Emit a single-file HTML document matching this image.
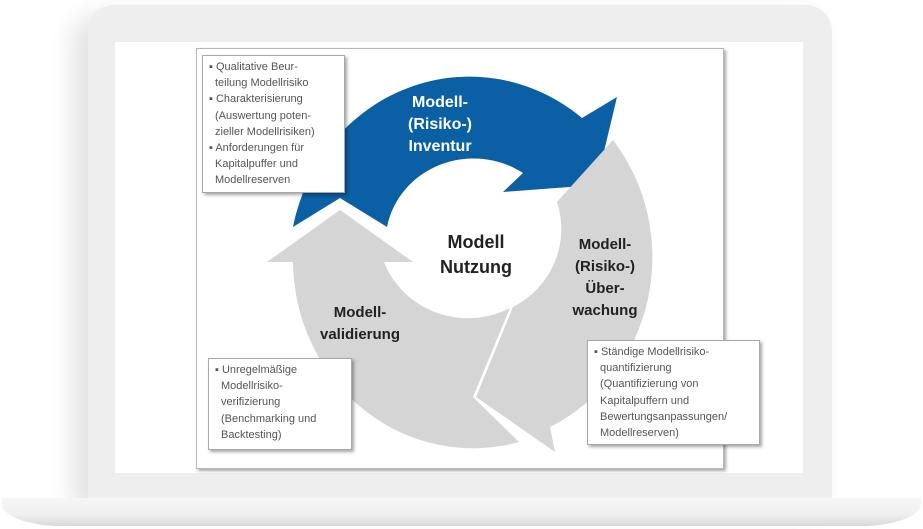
<!DOCTYPE html>
<html><head><meta charset="utf-8"><style>
html,body{margin:0;padding:0;background:#fff;}
body{width:923px;height:529px;position:relative;overflow:hidden;font-family:"Liberation Sans",sans-serif;}
.frame{position:absolute;left:88px;top:5px;width:744px;height:497px;background:#eeeeef;border-radius:26px 26px 4px 4px;box-shadow:-14px 10px 26px rgba(0,0,0,0.12);}
.base{position:absolute;left:2px;top:498px;width:919px;height:28px;background:linear-gradient(#f6f6f6,#f0f0f0 60%,#d8d8d8);border-radius:2px 2px 60px 60px/2px 2px 22px 22px;}
.screen{position:absolute;left:115px;top:42px;width:688px;height:431px;background:#fff;}
.dbox{position:absolute;left:196px;top:48px;width:526px;height:419px;border:1px solid #b8b8b8;box-shadow:2px 2px 3px rgba(0,0,0,0.35);background:#fff;}
.tb{position:absolute;background:#fff;border:1px solid #a8a8a8;box-shadow:2px 2px 3px rgba(0,0,0,0.35);font-size:11px;line-height:16.2px;color:#555;padding:3px 4px 3px 4px;box-sizing:border-box;}
.tb div{padding-left:8px;text-indent:-6px;}
.lbl{position:absolute;font-weight:bold;text-align:center;}
</style></head><body>
<div class="frame"></div>
<div class="base"></div>
<div class="screen"></div>
<div class="dbox"></div>
<svg style="position:absolute;left:0;top:0" width="923" height="529">
<path d="M293,227 A180 188 0 0 1 582,118 L617,97 L596,185 L503,192 L523,173 A88 84 0 0 0 387,227 L340,198 Z" fill="#0b5fa5"/>
<path d="M519,442 L473,397 L510,308 A90 88 0 0 1 384,262 L413,262 L340,210 L267,262 L293,262 A180 188 0 0 0 519,442 Z" fill="#d5d5d5"/>
<path d="M557,202 L613,140 A180 188 0 0 1 550,427 L555,452 L476,397 L513,307 A90 88 0 0 0 557,202 Z" fill="#d5d5d5"/>
</svg>
<div class="lbl" style="left:380px;top:92px;width:120px;color:#fff;font-size:16px;line-height:22px;">Modell-<br>(Risiko-)<br>Inventur</div>
<div class="lbl" style="left:416px;top:230px;width:120px;color:#222;font-size:18px;line-height:25px;">Modell<br>Nutzung</div>
<div class="lbl" style="left:555px;top:234px;width:100px;color:#222;font-size:15px;line-height:22px;">Modell-<br>(Risiko-)<br>Über-<br>wachung</div>
<div class="lbl" style="left:305px;top:302px;width:110px;color:#222;font-size:15px;line-height:22px;">Modell-<br>validierung</div>
<div class="tb" style="left:202px;top:55px;width:143px;height:138px;"><div>▪ Qualitative Beur-<br>teilung Modellrisiko</div><div>▪ Charakterisierung<br>(Auswertung poten-<br>zieller Modellrisiken)</div><div>▪ Anforderungen für<br>Kapitalpuffer und<br>Modellreserven</div></div>
<div class="tb" style="left:208px;top:358px;width:144px;height:92px;"><div>▪ Unregelmäßige<br>Modellrisiko-<br>verifizierung<br>(Benchmarking und<br>Backtesting)</div></div>
<div class="tb" style="left:587px;top:340px;width:173px;height:105px;"><div>▪ Ständige Modellrisiko-<br>quantifizierung<br>(Quantifizierung von<br>Kapitalpuffern und<br>Bewertungsanpassungen/<br>Modellreserven)</div></div>
</body></html>
